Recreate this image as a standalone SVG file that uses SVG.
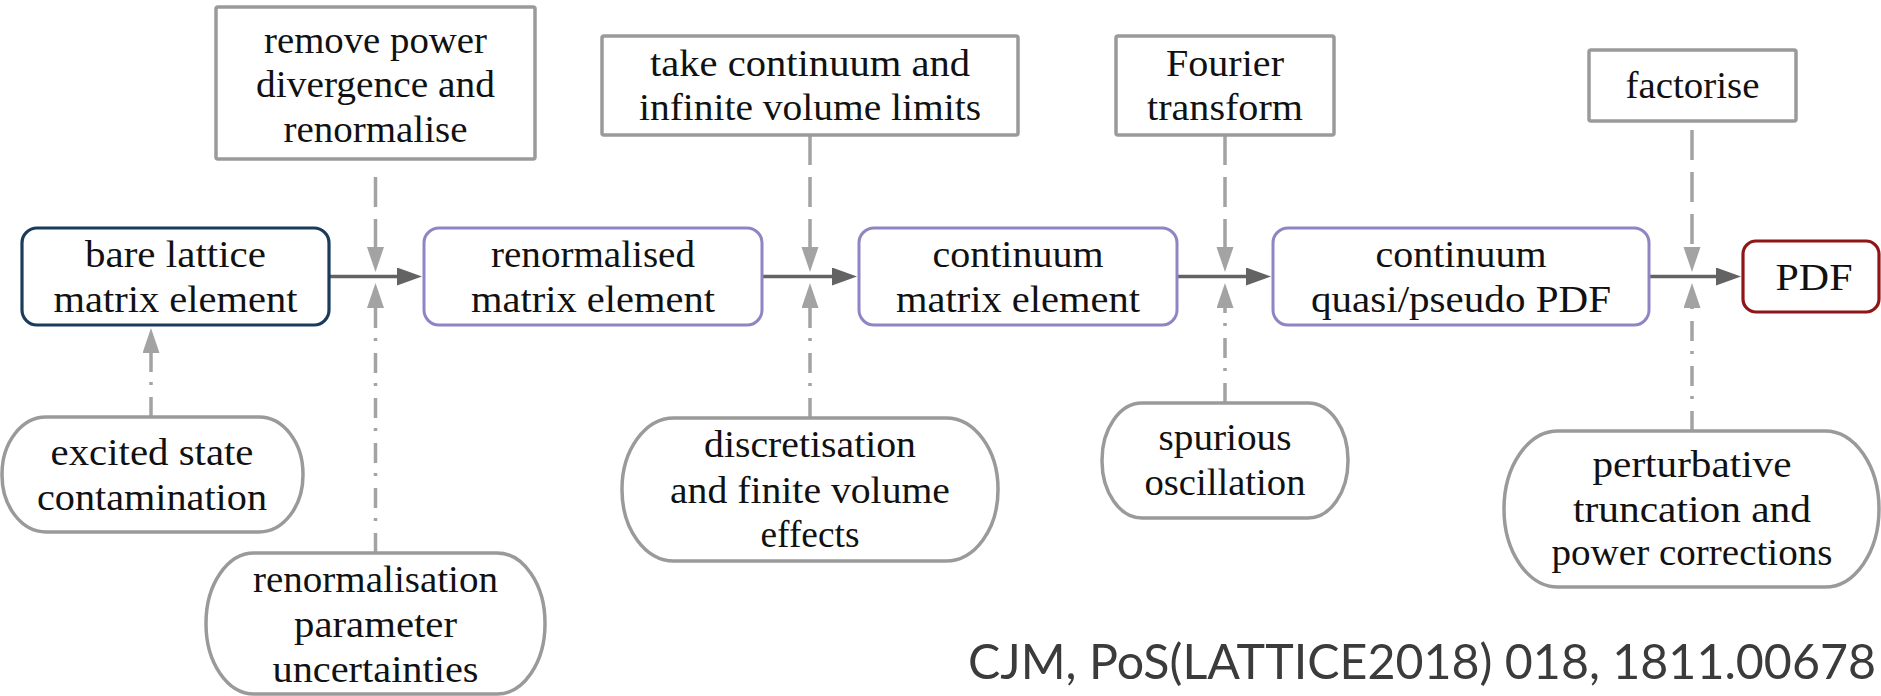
<svg xmlns="http://www.w3.org/2000/svg" width="1881" height="696" viewBox="0 0 1881 696">
<defs>
<style>
.t{font-family:'Liberation Serif','Times New Roman',serif;font-size:37px;fill:#111;text-anchor:middle}
.box{fill:#fff;stroke:#9a9a9a;stroke-width:3.5}
.stad{fill:#fff;stroke:#9a9a9a;stroke-width:3.5}
.main{fill:#fff;stroke:#8f85c4;stroke-width:3}
.navy{fill:#fff;stroke:#1b3b5c;stroke-width:3.2}
.red{fill:#fff;stroke:#8e1616;stroke-width:3.2}
.flow{stroke:#636363;stroke-width:3.5;fill:none}
.dash{stroke:#a3a3a3;stroke-width:3.5;fill:none;stroke-dasharray:30 12}
.dd{stroke:#a3a3a3;stroke-width:3.5;fill:none;stroke-dasharray:20 12 3 10}
.cite{font-family:Lato,'Open Sans',sans-serif;font-size:48px;fill:#3b3b3b}
</style>
<marker id="ah" markerUnits="userSpaceOnUse" markerWidth="26" markerHeight="20" refX="1" refY="9" orient="auto"><path d="M0,0 L25,9 L0,18 z" fill="#636363"/></marker>
<marker id="ag" markerUnits="userSpaceOnUse" markerWidth="26" markerHeight="20" refX="1" refY="8.5" orient="auto"><path d="M0,0 L25,8.5 L0,17 z" fill="#a3a3a3"/></marker>
</defs>
<rect width="1881" height="696" fill="#fff"/>
<g id="connectors">
<line class="flow" x1="329" y1="276.5" x2="398" y2="276.5" marker-end="url(#ah)"/>
<line class="flow" x1="762" y1="276.5" x2="833" y2="276.5" marker-end="url(#ah)"/>
<line class="flow" x1="1177" y1="276.5" x2="1247" y2="276.5" marker-end="url(#ah)"/>
<line class="flow" x1="1649" y1="276.5" x2="1717" y2="276.5" marker-end="url(#ah)"/>
<line class="dash" x1="375.5" y1="177" x2="375.5" y2="248" marker-end="url(#ag)"/>
<line class="dash" x1="810" y1="135" x2="810" y2="248" marker-end="url(#ag)"/>
<line class="dash" x1="1225" y1="135" x2="1225" y2="248" marker-end="url(#ag)"/>
<line class="dash" x1="1692" y1="130" x2="1692" y2="248" marker-end="url(#ag)"/>
<line class="dd" x1="151" y1="417" x2="151" y2="352" marker-end="url(#ag)"/>
<line class="dd" x1="375.5" y1="553" x2="375.5" y2="307" marker-end="url(#ag)"/>
<line class="dd" x1="810" y1="418" x2="810" y2="307" marker-end="url(#ag)"/>
<line class="dd" x1="1225" y1="403" x2="1225" y2="307" marker-end="url(#ag)"/>
<line class="dd" x1="1692" y1="431" x2="1692" y2="307" marker-end="url(#ag)"/>
</g>
<g id="remove-power">
<rect class="box" x="216" y="7" width="319" height="152" rx="2"/>
<text class="t" x="375.5" y="53" textLength="223" lengthAdjust="spacingAndGlyphs">remove power</text>
<text class="t" x="375.5" y="97" textLength="239" lengthAdjust="spacingAndGlyphs">divergence and</text>
<text class="t" x="375.5" y="142" textLength="184" lengthAdjust="spacingAndGlyphs">renormalise</text>
</g>
<g id="take-continuum">
<rect class="box" x="602" y="36" width="416" height="99" rx="2"/>
<text class="t" x="810" y="76" textLength="320" lengthAdjust="spacingAndGlyphs">take continuum and</text>
<text class="t" x="810" y="120" textLength="342" lengthAdjust="spacingAndGlyphs">infinite volume limits</text>
</g>
<g id="fourier">
<rect class="box" x="1116" y="36" width="218" height="99" rx="2"/>
<text class="t" x="1225" y="76" textLength="118" lengthAdjust="spacingAndGlyphs">Fourier</text>
<text class="t" x="1225" y="120" textLength="156" lengthAdjust="spacingAndGlyphs">transform</text>
</g>
<g id="factorise">
<rect class="box" x="1589" y="50" width="207" height="71" rx="2"/>
<text class="t" x="1692.5" y="98" textLength="134" lengthAdjust="spacingAndGlyphs">factorise</text>
</g>
<g id="bare-lattice">
<rect class="navy" x="22" y="228" width="307" height="97" rx="15"/>
<text class="t" x="175.5" y="267" textLength="181" lengthAdjust="spacingAndGlyphs">bare lattice</text>
<text class="t" x="175.5" y="312" textLength="244" lengthAdjust="spacingAndGlyphs">matrix element</text>
</g>
<g id="renormalised">
<rect class="main" x="424" y="228" width="338" height="97" rx="15"/>
<text class="t" x="593" y="267" textLength="204" lengthAdjust="spacingAndGlyphs">renormalised</text>
<text class="t" x="593" y="312" textLength="244" lengthAdjust="spacingAndGlyphs">matrix element</text>
</g>
<g id="continuum-me">
<rect class="main" x="859" y="228" width="318" height="97" rx="15"/>
<text class="t" x="1018" y="267" textLength="171" lengthAdjust="spacingAndGlyphs">continuum</text>
<text class="t" x="1018" y="312" textLength="244" lengthAdjust="spacingAndGlyphs">matrix element</text>
</g>
<g id="quasi-pdf">
<rect class="main" x="1273" y="228" width="376" height="97" rx="15"/>
<text class="t" x="1461" y="267" textLength="171" lengthAdjust="spacingAndGlyphs">continuum</text>
<text class="t" x="1461" y="312" textLength="300" lengthAdjust="spacingAndGlyphs">quasi/pseudo PDF</text>
</g>
<g id="pdf">
<rect class="red" x="1743" y="241" width="136" height="71" rx="13"/>
<text class="t" x="1814" y="290" textLength="77" lengthAdjust="spacingAndGlyphs">PDF</text>
</g>
<g id="excited">
<rect class="stad" x="2" y="417" width="301" height="115" rx="44" ry="57"/>
<text class="t" x="152" y="465" textLength="203" lengthAdjust="spacingAndGlyphs">excited state</text>
<text class="t" x="152" y="510" textLength="230" lengthAdjust="spacingAndGlyphs">contamination</text>
</g>
<g id="renorm-param">
<rect class="stad" x="206" y="553" width="339" height="141" rx="48" ry="70"/>
<text class="t" x="375.5" y="592" textLength="245" lengthAdjust="spacingAndGlyphs">renormalisation</text>
<text class="t" x="375.5" y="637" textLength="163" lengthAdjust="spacingAndGlyphs">parameter</text>
<text class="t" x="375.5" y="682" textLength="206" lengthAdjust="spacingAndGlyphs">uncertainties</text>
</g>
<g id="discretisation">
<rect class="stad" x="622" y="418" width="376" height="143" rx="52" ry="71"/>
<text class="t" x="810" y="457" textLength="212" lengthAdjust="spacingAndGlyphs">discretisation</text>
<text class="t" x="810" y="503" textLength="280" lengthAdjust="spacingAndGlyphs">and finite volume</text>
<text class="t" x="810" y="547" textLength="99" lengthAdjust="spacingAndGlyphs">effects</text>
</g>
<g id="spurious">
<rect class="stad" x="1102" y="403" width="246" height="115" rx="40" ry="57"/>
<text class="t" x="1225" y="450" textLength="133" lengthAdjust="spacingAndGlyphs">spurious</text>
<text class="t" x="1225" y="495" textLength="161" lengthAdjust="spacingAndGlyphs">oscillation</text>
</g>
<g id="perturbative">
<rect class="stad" x="1504" y="431" width="375" height="156" rx="54" ry="78"/>
<text class="t" x="1692" y="477" textLength="199" lengthAdjust="spacingAndGlyphs">perturbative</text>
<text class="t" x="1692" y="522" textLength="238" lengthAdjust="spacingAndGlyphs">truncation and</text>
<text class="t" x="1692" y="565" textLength="281" lengthAdjust="spacingAndGlyphs">power corrections</text>
</g>
<text class="cite" x="968" y="679" textLength="908" lengthAdjust="spacingAndGlyphs">CJM, PoS(LATTICE2018) 018, 1811.00678</text>
</svg>
